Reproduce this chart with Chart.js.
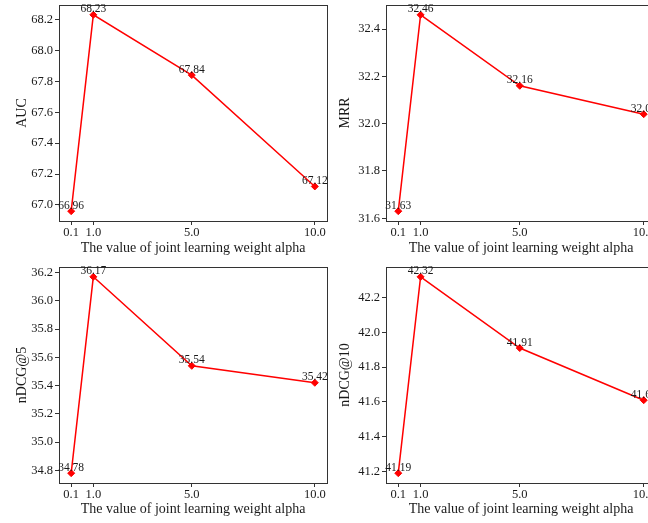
<!DOCTYPE html>
<html>
<head>
<meta charset="utf-8">
<script src="https://cdn.jsdelivr.net/npm/chart.js@4.4.0/dist/chart.umd.min.js"></script>
<style>
  body { margin: 0; background: #fff; }
  #wrap { position: relative; width: 648px; height: 523px; overflow: hidden; background: #fff; }
  canvas { position: absolute; }
</style>
</head>
<body>
<div id="wrap">
  <canvas id="auc" width="332" height="262" style="left:0;top:0"></canvas>
  <canvas id="mrr" width="332" height="262" style="left:330px;top:0"></canvas>
  <canvas id="ndcg5" width="332" height="261" style="left:0;top:262px"></canvas>
  <canvas id="ndcg10" width="332" height="261" style="left:330px;top:262px"></canvas>
</div>
<script>
// weights on the x axis
const alpha = [0.1, 1.0, 5.0, 10.0];
const xTicks = [0.1, 1.0, 5.0, 10.0];

// metric values per weight
const auc = [66.96, 68.23, 67.84, 67.12];
const mrr = [31.63, 32.46, 32.16, 32.04];
const ndcg5 = [34.78, 36.17, 35.54, 35.42];
const ndcg10 = [41.19, 42.32, 41.91, 41.61];

// y tick labels
const aucTicks = [67.0, 67.2, 67.4, 67.6, 67.8, 68.0, 68.2];
const mrrTicks = [31.6, 31.8, 32.0, 32.2, 32.4];
const ndcg5Ticks = [34.8, 35.0, 35.2, 35.4, 35.6, 35.8, 36.0, 36.2];
const ndcg10Ticks = [41.2, 41.4, 41.6, 41.8, 42.0, 42.2];

const xTitle = 'The value of joint learning weight alpha';
const serif = '"Liberation Serif", "Times New Roman", serif';
const ink = '#1a1a1a';

// like matplotlib's 5% auto margins
function padRange(arr) {
    const lo = Math.min(...arr), hi = Math.max(...arr);
    const m = (hi - lo) * 0.05;
    return [lo - m, hi + m];
}

const extras = {
    id: 'extras',
    afterDraw(chart) {
        const ctx = chart.ctx;
        const a = chart.chartArea;
        ctx.save();
        ctx.strokeStyle = '#333';
        ctx.lineWidth = 1;
        ctx.strokeRect(Math.round(a.left) + 0.5, Math.round(a.top) + 0.5,
                       Math.round(a.right - a.left), Math.round(a.bottom - a.top));

        ctx.font = '11.5px ' + serif;
        ctx.fillStyle = ink;
        ctx.textAlign = 'center';
        ctx.textBaseline = 'alphabetic';
        const pts = chart.getDatasetMeta(0).data;
        const vals = chart.data.datasets[0].data;
        pts.forEach((p, i) => {
            ctx.fillText(vals[i].y.toFixed(2), p.x, p.y - 2.5);
        });
        ctx.restore();
    }
};

function makePanel(id, label, values, yTicks, g) {
    const [xlo, xhi] = padRange(alpha);
    const [ylo, yhi] = padRange(values);
    new Chart(document.getElementById(id), {
        type: 'line',
        data: {
            datasets: [{
                data: alpha.map((x, i) => ({x: x, y: values[i]})),
                borderColor: '#ff0000',
                backgroundColor: '#ff0000',
                borderWidth: 1.5,
                pointStyle: 'rectRot',
                pointRadius: 3.5,
                pointBorderWidth: 1,
                tension: 0,
                clip: false
            }]
        },
        options: {
            responsive: false,
            animation: false,
            layout: { padding: { top: 5, right: g.padRight, left: 0, bottom: 0 } },
            plugins: { legend: { display: false }, tooltip: { enabled: false } },
            scales: {
                x: {
                    type: 'linear',
                    min: xlo, max: xhi,
                    afterBuildTicks: s => { s.ticks = xTicks.map(v => ({ value: v })); },
                    afterFit: s => {
                        s.height = g.xHeight;
                        s.paddingLeft = 0; s.paddingRight = 0;
                    },
                    ticks: {
                        callback: v => v.toFixed(1),
                        font: { family: serif, size: 12.5 },
                        color: ink, padding: 0.5, maxRotation: 0, autoSkip: false
                    },
                    grid: { drawOnChartArea: false, drawTicks: true, tickLength: 4, color: '#333' },
                    border: { display: false },
                    title: {
                        display: true, text: xTitle, color: ink,
                        font: { family: serif, size: 14 },
                        padding: { top: 0, bottom: 5.5 }
                    }
                },
                y: {
                    min: ylo, max: yhi,
                    afterBuildTicks: s => { s.ticks = yTicks.map(v => ({ value: v })); },
                    afterFit: s => {
                        s.width = g.yWidth;
                        s.paddingTop = 0; s.paddingBottom = 0;
                    },
                    ticks: {
                        callback: v => v.toFixed(1),
                        font: { family: serif, size: 12.5 },
                        color: ink, padding: 2, autoSkip: false
                    },
                    grid: { drawOnChartArea: false, drawTicks: true, tickLength: 4, color: '#333' },
                    border: { display: false },
                    title: {
                        display: true, text: label, color: ink,
                        font: { family: serif, size: 14 },
                        padding: { top: g.yTitlePad, bottom: 0 }
                    }
                }
            }
        },
        plugins: [extras]
    });
}

makePanel('auc', 'AUC', auc, aucTicks, { yWidth: 59, padRight: 3, xHeight: 41, yTitlePad: 14 });
makePanel('mrr', 'MRR', mrr, mrrTicks, { yWidth: 56, padRight: 6, xHeight: 41, yTitlePad: 6.6 });
makePanel('ndcg5', 'nDCG@5', ndcg5, ndcg5Ticks, { yWidth: 59, padRight: 3, xHeight: 40, yTitlePad: 14 });
makePanel('ndcg10', 'nDCG@10', ndcg10, ndcg10Ticks, { yWidth: 56, padRight: 6, xHeight: 40, yTitlePad: 6.6 });
</script>
</body>
</html>
